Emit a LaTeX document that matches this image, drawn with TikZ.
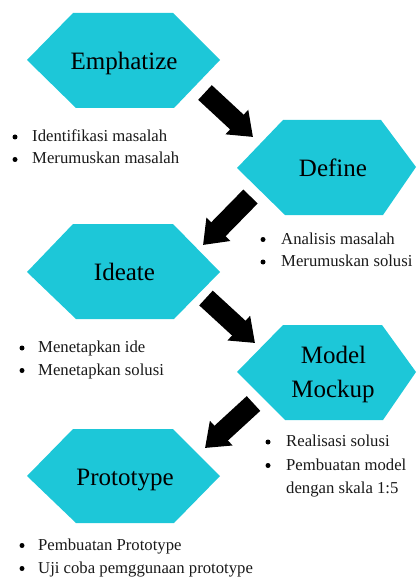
\documentclass[tikz,border=0pt]{standalone}
\usepackage{fontspec}
\setmainfont{Liberation Serif}
\usetikzlibrary{arrows.meta}
\definecolor{hexcyan}{RGB}{29,199,216}
\tikzset{
  hexfill/.style={fill=hexcyan, draw=none},
  title/.style={font=\fontsize{25}{28}\selectfont, anchor=base, inner sep=0pt, text=black},
  item/.style={font=\fontsize{16.7}{20}\selectfont, anchor=base west, inner sep=0pt, text=black!90},
  dot/.style={circle, fill=black, inner sep=0pt, minimum size=5pt},
  bigarrow/.style={line width=20pt, black, -{Triangle[width=32pt,length=22pt]}}
}
\begin{document}
\begin{tikzpicture}[x=1pt,y=-1pt]
\useasboundingbox (0,0) rectangle (417,577);

% hexagons
\fill[hexfill] (27,60) -- (73,13) -- (173,13) -- (220,60) -- (174,108) -- (76,108) -- cycle;
\fill[hexfill] (237,168) -- (283,120) -- (381,120) -- (416,167) -- (383,215) -- (285,215) -- cycle;
\fill[hexfill] (27,272) -- (73,224) -- (173,224) -- (220,272) -- (174,319) -- (76,319) -- cycle;
\fill[hexfill] (237,372) -- (283,325) -- (382,325) -- (416,372) -- (383,420) -- (285,420) -- cycle;
\fill[hexfill] (27,476) -- (73,429) -- (173,429) -- (220,476) -- (174,523) -- (76,523) -- cycle;

% titles
\node[title] (emph) at (124,70) {Emphatize};
\node[title] (def) at (333,176.5) {Define};
\node[title] (ide) at (124.5,280) {Ideate};
\node[title] (mod) at (333.5,363) {Model};
\node[title] (moc) at (333,397) {Mockup};
\node[title] (pro) at (125,485) {Prototype};

% arrows
\coordinate (a1s) at (205,92.5);  \coordinate (a1e) at (253,137);
\coordinate (a2s) at (250.5,196.5); \coordinate (a2e) at (203,245);
\coordinate (a3s) at (206,298);   \coordinate (a3e) at (255,343);
\coordinate (a4s) at (253.5,403.5); \coordinate (a4e) at (205,448);
\draw[bigarrow] (a1s) -- (a1e);
\draw[bigarrow] (a2s) -- (a2e);
\draw[bigarrow] (a3s) -- (a3e);
\draw[bigarrow] (a4s) -- (a4e);

% list 1
\node[dot] (b11) at (15,137) {};
\node[item] (t11) at (32,141.7) {Identifikasi masalah};
\node[dot] (b12) at (15,159.5) {};
\node[item] (t12) at (32,164) {Merumuskan masalah};

% list 2
\node[dot] (b21) at (263,239.5) {};
\node[item] (t21) at (281,244) {Analisis masalah};
\node[dot] (b22) at (263,262) {};
\node[item] (t22) at (281,266.7) {Merumuskan solusi};

% list 3
\node[dot] (b31) at (22,348) {};
\node[item] (t31) at (38,352.7) {Menetapkan ide};
\node[dot] (b32) at (22,370.5) {};
\node[item] (t32) at (38,375) {Menetapkan solusi};

% list 4
\node[dot] (b41) at (268,442) {};
\node[item] (t41) at (286,446.7) {Realisasi solusi};
\node[dot] (b42) at (268,465.5) {};
\node[item] (t42) at (286,470) {Pembuatan model};
\node[item] (t43) at (286,493) {dengan skala 1:5};

% list 5
\node[dot] (b51) at (22,545.5) {};
\node[item] (t51) at (38,550) {Pembuatan Prototype};
\node[dot] (b52) at (22,568.5) {};
\node[item] (t52) at (38,573) {Uji coba pemggunaan prototype};
\end{tikzpicture}
\end{document}
